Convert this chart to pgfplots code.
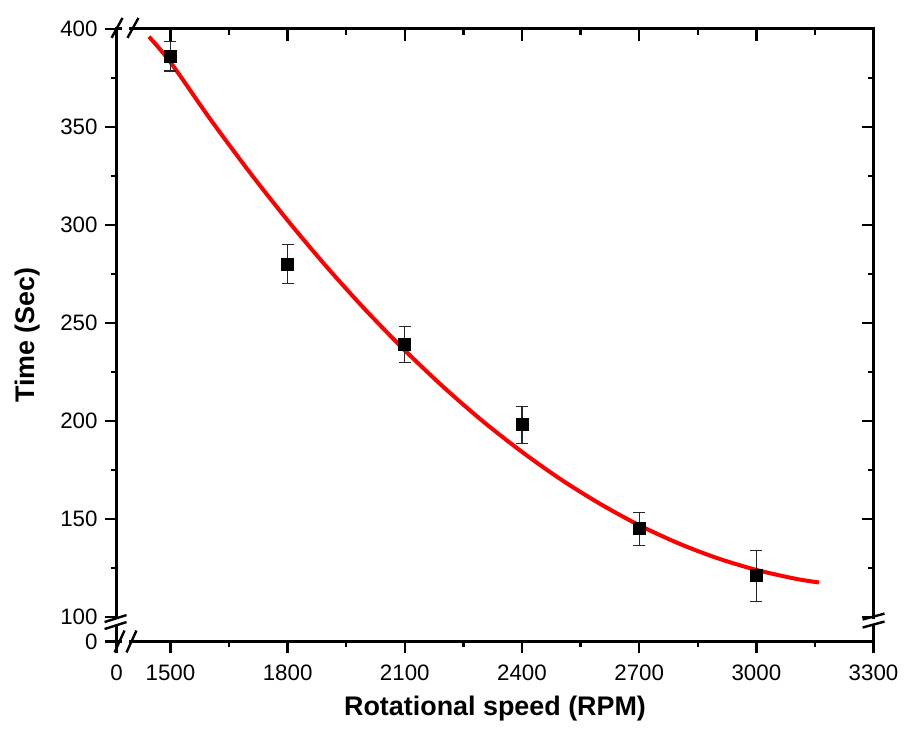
\documentclass[border=0pt]{standalone}
\usepackage{fontspec}
\setmainfont{Liberation Sans}
\usepackage{pgfplots}
\pgfplotsset{compat=1.18}
\begin{document}
\begin{tikzpicture}
\pgfplotsset{
  base/.style={
    scale only axis, width=380pt, height=307.5pt,
    xmin=1362, xmax=3300, ymin=87.5, ymax=400,
    xtick={1362,1500,1800,2100,2400,2700,3000,3300},
    minor xtick={1650,1950,2250,2550,2850,3150},
    ytick={87.5,100,150,200,250,300,350,400},
    minor ytick={125,175,225,275,325,375},
    major tick length=6pt, minor tick length=3pt,
    every tick/.style={black, line width=1.2pt},
    axis line style={line width=1.4pt},
    tick label style={font=\fontsize{11.2}{13}\selectfont, black},
    clip=false,
  }
}
\begin{axis}[base, name=main, xtick pos=left, ytick pos=left, tick align=outside,
  xticklabels={0,1500,1800,2100,2400,2700,3000,3300},
  yticklabels={0,100,150,200,250,300,350,400},
  xticklabel style={yshift=-2pt},
  xlabel={\bfseries Rotational speed (RPM)},
  ylabel={\bfseries Time (Sec)},
  label style={font=\fontsize{13.5}{16}\selectfont\bfseries},
  xlabel style={at={(axis description cs:0.5,-0.11)}, anchor=center},
  ylabel style={at={(axis description cs:-0.118,0.5)}, anchor=center},
]
\addplot[red, line width=2pt, smooth] coordinates {
(1445,396) (1500,383) (1600,354.5) (1700,327.6) (1800,302.3) (1900,278.6)
(2000,256.5) (2100,236.0) (2200,217.1) (2300,199.8) (2400,184.2) (2500,170.1)
(2600,157.7) (2700,146.8) (2800,137.6) (2900,130.0) (3000,124.0) (3100,119.5) (3160,117.6)};
\addplot[only marks, mark=square*, mark size=3pt, black,
  error bars/.cd, y dir=both, y explicit,
  error bar style={line width=0.6pt, black!85},
  error mark options={rotate=90, mark size=3pt, line width=0.6pt, black!85}]
  coordinates {
  (1500,386) +- (0,7.5)
  (1800,280) +- (0,10)
  (2100,239) +- (0,9)
  (2400,198) +- (0,9.5)
  (2700,145) +- (0,8.5)
  (3000,121) +- (0,13)
};
\end{axis}
\begin{axis}[base, xtick pos=right, ytick pos=right, tick align=inside,
  xticklabels={}, yticklabels={}]
\end{axis}
\coordinate (O) at ([xshift=-58.5pt,yshift=322pt]main.south west);
\begin{scope}[shift={(O)}, x=0.5pt, y=-0.5pt]
  \path (0,0) rectangle (905,736);
  % gaps
  \fill[white] (112,621) rectangle (121,627);
  \fill[white] (873,621) rectangle (882,627);
  \fill[white] (122,24) rectangle (130,34);
  \fill[white] (122,640) rectangle (130,648);
  \begin{scope}[line width=1.2pt]
    \draw (105,624.5) -- (127,617.5);
    \draw (105,631.5) -- (127,624.5);
    \draw (866,622) -- (888,616);
    \draw (866,630) -- (888,624);
    \draw (115,655) -- (125,633);
    \draw (127,655) -- (137,633);
    \draw (112,38) -- (123,18);
    \draw (128,38) -- (139,18);
  \end{scope}
\end{scope}
\end{tikzpicture}
\end{document}
